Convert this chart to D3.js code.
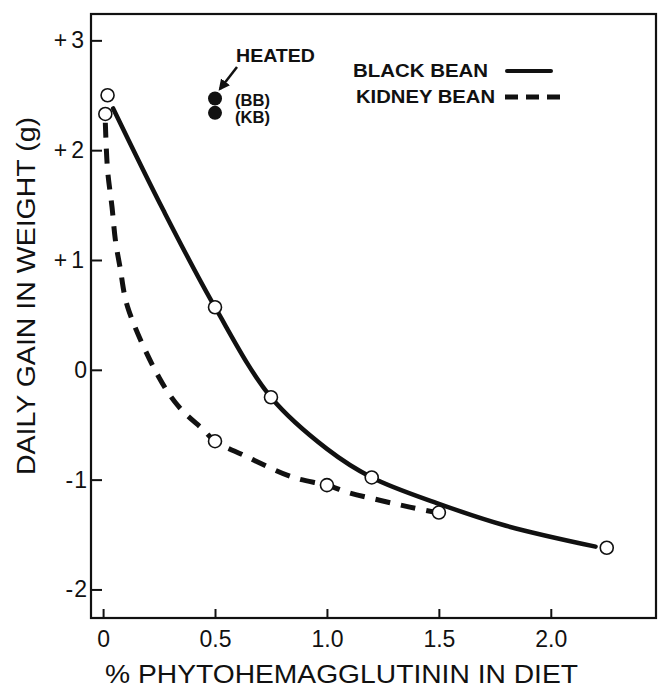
<!DOCTYPE html>
<html>
<head>
<meta charset="utf-8">
<script src="https://cdn.jsdelivr.net/npm/d3@7"></script>
<style>
  body { margin: 0; background: #fff; }
  svg { display: block; font-family: "Liberation Sans", Arial, sans-serif; }
  .tick line { stroke: #111; stroke-width: 2px; }
  .tick text { fill: #111; font-size: 23px; }
</style>
</head>
<body>
<div id="chart"></div>
<script>
// ---- data ----
// measured points (open circles)
let blackBeanPts = [[0.02, 2.50], [0.5, 0.57], [0.75, -0.25], [1.2, -0.98], [2.25, -1.62]];
let kidneyBeanPts = [[0.01, 2.33], [0.5, -0.65], [1.0, -1.05], [1.5, -1.30]];
// hand drawn curves
let blackBeanCurve = [[0.045, 2.38], [0.27, 1.45], [0.5, 0.57], [0.75, -0.25], [1.0, -0.72],
    [1.2, -0.98], [1.5, -1.22], [1.8, -1.42], [2.2, -1.61]];
let kidneyBeanCurve = [[0.01, 2.25], [0.02, 1.82], [0.04, 1.48], [0.055, 1.18], [0.076, 0.93],
    [0.11, 0.57], [0.25, -0.07], [0.34, -0.34], [0.45, -0.55], [0.5, -0.65], [0.63, -0.78],
    [0.85, -0.98], [1.0, -1.05], [1.1, -1.12], [1.24, -1.19], [1.37, -1.25], [1.49, -1.30]];
// heated samples (filled circles)
let heatedX = [0.5, 0.5];
let heatedY = [2.47, 2.34];
let heatedLabels = ["(BB)", "(KB)"];

let xTicks = [0, 0.5, 1, 1.5, 2];
let xTickLabels = ["0", "0.5", "1.0", "1.5", "2.0"];
let yTicks = [-2, -1, 0, 1, 2, 3];
let yTickLabels = ["-2", "-1", "0", "+1", "+2", "+3"];

// ---- layout ----
let width = 659, height = 687;
let plotLeft = 91, plotRight = 656, plotTop = 14, plotBottom = 618;

let svg = d3.select("#chart").append("svg")
    .attr("width", width)
    .attr("height", height);

let x = d3.scaleLinear().domain([-0.054, 2.47]).range([plotLeft, plotRight]);
let y = d3.scaleLinear().domain([-2.26, 3.24]).range([plotBottom, plotTop]);

// frame
svg.append("rect")
    .attr("x", plotLeft).attr("y", plotTop)
    .attr("width", plotRight - plotLeft).attr("height", plotBottom - plotTop)
    .attr("fill", "none").attr("stroke", "#111").attr("stroke-width", 2.2);

// axes, ticks pointing inward
let xAxis = svg.append("g")
    .attr("transform", `translate(0,${plotBottom})`)
    .call(d3.axisBottom(x).tickValues(xTicks).tickSize(-9).tickPadding(13)
        .tickFormat((d, i) => xTickLabels[i]));
xAxis.select(".domain").remove();
xAxis.selectAll(".tick text").attr("font-size", 24);

let yAxis = svg.append("g")
    .attr("transform", `translate(${plotLeft},0)`)
    .call(d3.axisLeft(y).tickValues(yTicks).tickSize(-11).tickPadding(3)
        .tickFormat((d, i) => yTickLabels[i]));
yAxis.select(".domain").remove();
yAxis.selectAll(".tick text")
    .attr("font-size", 25)
    .attr("letter-spacing", d => d > 0 ? "4px" : "1px");

// axis titles
svg.append("text")
    .attr("x", 105).attr("y", 683)
    .attr("font-size", 25).attr("fill", "#111")
    .attr("textLength", 473).attr("lengthAdjust", "spacingAndGlyphs")
    .text("% PHYTOHEMAGGLUTININ IN DIET");

svg.append("text")
    .attr("transform", "translate(35,296) rotate(-90)")
    .attr("text-anchor", "middle")
    .attr("font-size", 26).attr("fill", "#111")
    .attr("textLength", 358).attr("lengthAdjust", "spacingAndGlyphs")
    .text("DAILY GAIN IN WEIGHT (g)");

// curves
let line = d3.line()
    .x(d => x(d[0]))
    .y(d => y(d[1]))
    .curve(d3.curveCatmullRom.alpha(0.5));

svg.append("path")
    .datum(blackBeanCurve)
    .attr("d", line)
    .attr("fill", "none").attr("stroke", "#111")
    .attr("stroke-width", 4.5).attr("stroke-linecap", "round");

svg.append("path")
    .datum(kidneyBeanCurve)
    .attr("d", line)
    .attr("fill", "none").attr("stroke", "#111")
    .attr("stroke-width", 5).attr("stroke-dasharray", "15,11");

// open circles
svg.selectAll(".pt")
    .data(blackBeanPts.concat(kidneyBeanPts))
    .join("circle")
    .attr("class", "pt")
    .attr("cx", d => x(d[0]))
    .attr("cy", d => y(d[1]))
    .attr("r", 6.5)
    .attr("fill", "#fff").attr("stroke", "#111").attr("stroke-width", 1.6);

// heated points
svg.selectAll(".heated")
    .data(heatedX)
    .join("circle")
    .attr("class", "heated")
    .attr("cx", (d, i) => x(d))
    .attr("cy", (d, i) => y(heatedY[i]))
    .attr("r", 7)
    .attr("fill", "#111");

svg.selectAll(".heatedLabel")
    .data(heatedLabels)
    .join("text")
    .attr("class", "heatedLabel")
    .attr("x", (d, i) => x(heatedX[i]) + 20)
    .attr("y", (d, i) => [106, 123][i])
    .attr("font-size", 16).attr("font-weight", "bold").attr("fill", "#111")
    .attr("textLength", 35).attr("lengthAdjust", "spacingAndGlyphs")
    .text(d => d);

svg.append("text")
    .attr("x", 236).attr("y", 62)
    .attr("font-size", 19).attr("font-weight", "bold").attr("fill", "#111")
    .attr("textLength", 79).attr("lengthAdjust", "spacingAndGlyphs")
    .text("HEATED");

// arrow to heated points
svg.append("defs").append("marker")
    .attr("id", "arrow")
    .attr("viewBox", "0 0 10 10")
    .attr("refX", 8).attr("refY", 5)
    .attr("markerWidth", 4.5).attr("markerHeight", 4.5)
    .attr("orient", "auto")
    .append("path")
    .attr("d", "M0,0L10,5L0,10z")
    .attr("fill", "#111");

svg.append("line")
    .attr("x1", 237).attr("y1", 67)
    .attr("x2", 220).attr("y2", 89)
    .attr("stroke", "#111").attr("stroke-width", 2.5)
    .attr("marker-end", "url(#arrow)");

// legend
let legend = svg.append("g");
legend.append("text")
    .attr("x", 353).attr("y", 77)
    .attr("font-size", 19).attr("font-weight", "bold").attr("fill", "#111")
    .attr("textLength", 135).attr("lengthAdjust", "spacingAndGlyphs")
    .text("BLACK BEAN");
legend.append("line")
    .attr("x1", 507).attr("x2", 551).attr("y1", 71).attr("y2", 71)
    .attr("stroke", "#111").attr("stroke-width", 4).attr("stroke-linecap", "round");

legend.append("text")
    .attr("x", 356).attr("y", 103)
    .attr("font-size", 19).attr("font-weight", "bold").attr("fill", "#111")
    .attr("textLength", 139).attr("lengthAdjust", "spacingAndGlyphs")
    .text("KIDNEY BEAN");
legend.append("line")
    .attr("x1", 505).attr("x2", 562).attr("y1", 97).attr("y2", 97)
    .attr("stroke", "#111").attr("stroke-width", 5).attr("stroke-dasharray", "13,8");
</script>
</body>
</html>
